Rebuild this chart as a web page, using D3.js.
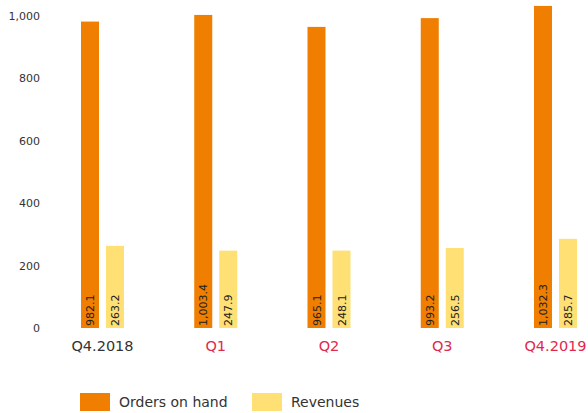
<!DOCTYPE html>
<html>
<head>
<meta charset="utf-8">
<script src="https://cdn.jsdelivr.net/npm/d3@7"></script>
<style>
  html, body { margin: 0; padding: 0; background: #ffffff; }
  svg { display: block; font-family: "DejaVu Sans", sans-serif; }
</style>
</head>
<body>
<svg id="chart" width="588" height="413"></svg>
<script>
// Quarterly figures
const categories = ["Q4.2018", "Q1", "Q2", "Q3", "Q4.2019"];
const seriesNames = ["Orders on hand", "Revenues"];
const ordersOnHand = [982.1, 1003.4, 965.1, 993.2, 1032.3];
const revenues = [263.2, 247.9, 248.1, 256.5, 285.7];
const yTicks = [0, 200, 400, 600, 800, 1000];

const colors = { "Orders on hand": "#f07e00", "Revenues": "#ffe074" };
const catColor = c => (c === "Q4.2018" ? "#333333" : "#e0284f");
const FONT = "'DejaVu Sans', sans-serif";

const svg = d3.select("#chart");

const y = d3.scaleLinear().domain([0, 1000]).range([328, 16]);

const x0 = d3.scaleBand()
  .domain(categories)
  .range([81, 577])
  .paddingInner(1 - 43 / 113.25)
  .paddingOuter(0);

const x1 = d3.scaleBand()
  .domain(seriesNames)
  .range([0, x0.bandwidth()])
  .paddingInner(0.28)
  .paddingOuter(0);

const fmt = d3.format(",.1f");

// Y axis: labels only, no line or ticks
const yAxis = svg.append("g")
  .attr("transform", "translate(40,0)")
  .call(d3.axisLeft(y).tickValues(yTicks).tickFormat(d3.format(",")).tickSize(0).tickPadding(0));
yAxis.select(".domain").remove();
yAxis.selectAll("text")
  .attr("fill", "#333")
  .style("font-size", "11px")
  .style("font-family", FONT);

// Category labels
const xAxis = svg.append("g")
  .attr("transform", "translate(0,328)")
  .call(d3.axisBottom(x0).tickSize(0).tickPadding(13));
xAxis.select(".domain").remove();
xAxis.selectAll("text")
  .attr("fill", d => catColor(d))
  .style("font-size", "14.5px")
  .style("font-family", FONT);

const rows = categories.map((c, i) => ({
  cat: c,
  values: [
    { key: "Orders on hand", value: ordersOnHand[i] },
    { key: "Revenues", value: revenues[i] }
  ]
}));

const groups = svg.append("g").selectAll("g")
  .data(rows)
  .join("g")
  .attr("transform", d => `translate(${x0(d.cat)},0)`);

groups.selectAll("rect")
  .data(d => d.values)
  .join("rect")
  .attr("x", d => x1(d.key))
  .attr("width", x1.bandwidth())
  .attr("y", d => y(d.value))
  .attr("height", d => y(0) - y(d.value))
  .attr("fill", d => colors[d.key]);

// Rotated value labels inside bars
groups.selectAll("text.val")
  .data(d => d.values)
  .join("text")
  .attr("class", "val")
  .attr("transform", d => `translate(${x1(d.key) + x1.bandwidth() / 2 + 4},${y(0) - 2}) rotate(-90)`)
  .attr("text-anchor", "start")
  .attr("fill", "#222")
  .style("font-size", "11px")
  .text(d => fmt(d.value));

// Legend
const legend = svg.append("g").attr("transform", "translate(80,393)");
const items = legend.selectAll("g")
  .data(seriesNames)
  .join("g")
  .attr("transform", (d, i) => `translate(${i * 172},0)`);
items.append("rect")
  .attr("width", 30)
  .attr("height", 18)
  .attr("fill", d => colors[d]);
items.append("text")
  .attr("x", 39)
  .attr("y", 9)
  .attr("dy", "0.35em")
  .attr("fill", "#333")
  .style("font-size", "14px")
  .text(d => d);
</script>
</body>
</html>
